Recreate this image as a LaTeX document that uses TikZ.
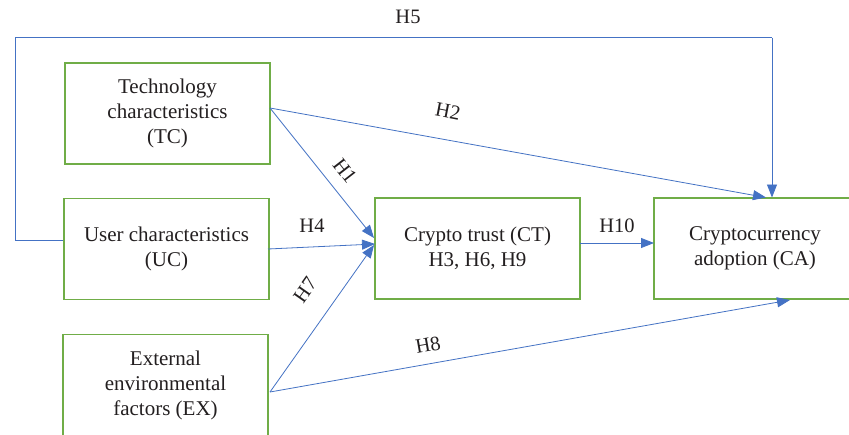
\documentclass[tikz,border=0pt]{standalone}
\usepackage{fontspec}
\setmainfont{Liberation Serif}
\usetikzlibrary{arrows.meta,calc}
\definecolor{boxgreen}{RGB}{112,173,71}
\definecolor{lineblue}{RGB}{68,114,196}
\definecolor{txt}{RGB}{35,31,32}
\begin{document}
\begin{tikzpicture}[x=1pt,y=-1pt,
  box/.style={draw=boxgreen,line width=1.2pt,minimum width=205pt,minimum height=101pt,align=center,inner sep=0pt,text=txt,font=\fontsize{21}{25}\selectfont},
  conn/.style={draw=lineblue,line width=0.8pt,-{Triangle[length=13pt,width=10pt]}},
  plain/.style={draw=lineblue,line width=0.8pt},
  lbl/.style={text=txt,font=\fontsize{20.5}{24}\selectfont,inner sep=0pt}]
\clip (0,0) rectangle (849,434);
\fill[white] (0,0) rectangle (849,434);
\node[box] (tc) at (167.5,113.5) {Technology\\characteristics\\(TC)};
\node[box] (uc) at (166.5,249) {User characteristics\\(UC)};
\node[box] (ex) at (165.5,385) {External\\environmental\\factors (EX)};
\node[box] (ct) at (477.5,248.5) {Crypto trust (CT)\\H3, H6, H9};
\node[box,minimum width=202pt] (ca) at (755,248.5) {Cryptocurrency\\adoption (CA)};
% H5 route
\coordinate (h5a) at (15,240);
\coordinate (h5b) at (15,37.5);
\coordinate (h5c) at (772,37.5);
\coordinate (caT5) at (772,197.5);
\draw[plain] (uc.west |- h5a) -- (h5a) -- (h5b) -- (h5c);
\draw[conn] (h5c) -- (caT5);
% sources / targets
\coordinate (tcR) at (270,108);
\coordinate (ucR) at (268,249);
\coordinate (exR) at (270,392);
\coordinate (ctL1) at (374,238);
\coordinate (ctL2) at (375,244);
\coordinate (ctL3) at (374,245);
\coordinate (caT2) at (766,197.5);
\coordinate (caB8) at (790,300);
\coordinate (ctR) at (580,243);
\coordinate (caL) at (654,243);
\draw[conn] (tcR) -- (ctL1);
\draw[conn] (tcR) -- (caT2);
\draw[conn] (ucR) -- (ctL2);
\draw[conn] (exR) -- (ctL3);
\draw[conn] (exR) -- (caB8);
\draw[conn] (ctR) -- (caL);
% labels
\node[lbl] (l5) at (408,17) {H5};
\node[lbl,rotate=-11] (l2) at (448,111) {H2};
\node[lbl,rotate=-52] (l1) at (345,171) {H1};
\node[lbl] (l4) at (312,226) {H4};
\node[lbl,rotate=55] (l7) at (305,290) {H7};
\node[lbl,rotate=10] (l8) at (428,345) {H8};
\node[lbl] (l10) at (617,226) {H10};
\end{tikzpicture}
\end{document}
